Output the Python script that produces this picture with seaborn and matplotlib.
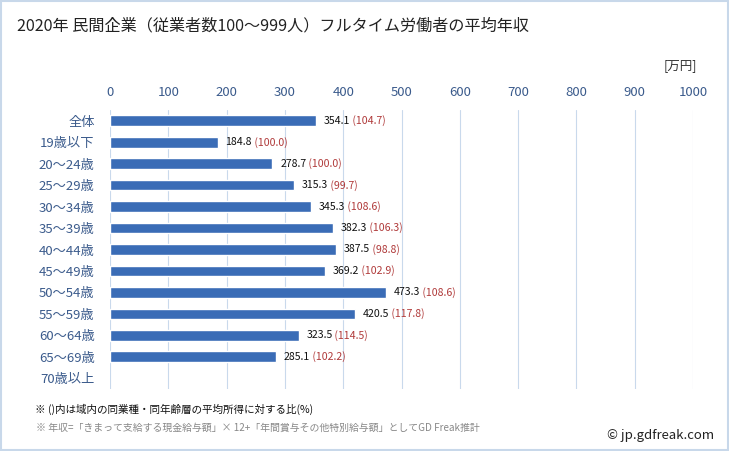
import numpy as np
import pandas as pd
import seaborn as sns
import matplotlib.pyplot as plt
from matplotlib.patches import Rectangle

# data
categories = ['全体', '19歳以下', '20～24歳', '25～29歳', '30～34歳', '35～39歳',
              '40～44歳', '45～49歳', '50～54歳', '55～59歳', '60～64歳', '65～69歳', '70歳以上']
income = [354.1, 184.8, 278.7, 315.3, 345.3, 382.3, 387.5, 369.2, 473.3, 420.5, 323.5, 285.1, np.nan]
ratio = [104.7, 100.0, 100.0, 99.7, 108.6, 106.3, 98.8, 102.9, 108.6, 117.8, 114.5, 102.2, np.nan]
xticks = list(range(0, 1001, 100))

df = pd.DataFrame({'cat': categories, 'income': income, 'ratio': ratio})

sns.set_style('white')
plt.rcParams['font.family'] = ['Noto Sans CJK JP', 'DejaVu Sans']

fig = plt.figure(figsize=(7.29, 4.51), dpi=100)
ax = fig.add_axes([110 / 729, 1 - 389 / 451, 583 / 729, 279 / 451])

sns.barplot(data=df, x='income', y='cat', order=categories, orient='h',
            color='#3a6cb6', saturation=1, width=0.5, ax=ax)

ax.set_xlim(0, 1000)
ax.set_ylim(12.5, -0.5)
ax.set_xticks(xticks)
ax.xaxis.tick_top()
ax.tick_params(axis='x', length=0, pad=8, labelsize=9.5, labelcolor='#3b5b8c')
ax.tick_params(axis='y', length=0, pad=11, labelsize=9.5, labelcolor='#3b5b8c')
ax.set_xlabel('')
ax.set_ylabel('')
for s in ax.spines.values():
    s.set_visible(False)
ax.grid(axis='x', color='#c9d9ec', linewidth=0.8)
ax.set_axisbelow(True)

# value + ratio labels
for i, (v, r) in enumerate(zip(income, ratio)):
    if np.isnan(v):
        continue
    t = ax.annotate(f'{v:.1f}', xy=(v, i), xytext=(5.5, 0), textcoords='offset points',
                    va='center', ha='left', fontsize=7.6, color='#111111')
    ax.annotate(f' ({r:.1f})', xy=(1, 0.5), xycoords=t, va='center', ha='left',
                fontsize=7.6, color='#b03a3a')

fig.text(17 / 729, 1 - 26 / 451, '2020年 民間企業（従業者数100～999人）フルタイム労働者の平均年収',
         fontsize=11.6, color='#222222', va='center', ha='left')
fig.text(697 / 729, 1 - 66 / 451, '[万円]', fontsize=9, color='#333333', va='center', ha='right')
fig.text(35 / 729, 1 - 409 / 451, '※ ()内は域内の同業種・同年齢層の平均所得に対する比(%)',
         fontsize=7.6, color='#111111', va='center', ha='left')
fig.text(36 / 729, 1 - 428 / 451,
         '※ 年収=「きまって支給する現金給与額」× 12+「年間賞与その他特別給与額」としてGD Freak推計',
         fontsize=7.15, color='#888888', va='center', ha='left')
fig.text(714 / 729, 1 - 436 / 451, '© jp.gdfreak.com', fontsize=9.5, color='#222222',
         va='center', ha='right')

fig.patches.append(Rectangle((0.001, 0.002), 0.997, 0.996, transform=fig.transFigure,
                             fill=False, edgecolor='#c8d8ea', linewidth=1.5))

fig.savefig('out.png', dpi=100)
